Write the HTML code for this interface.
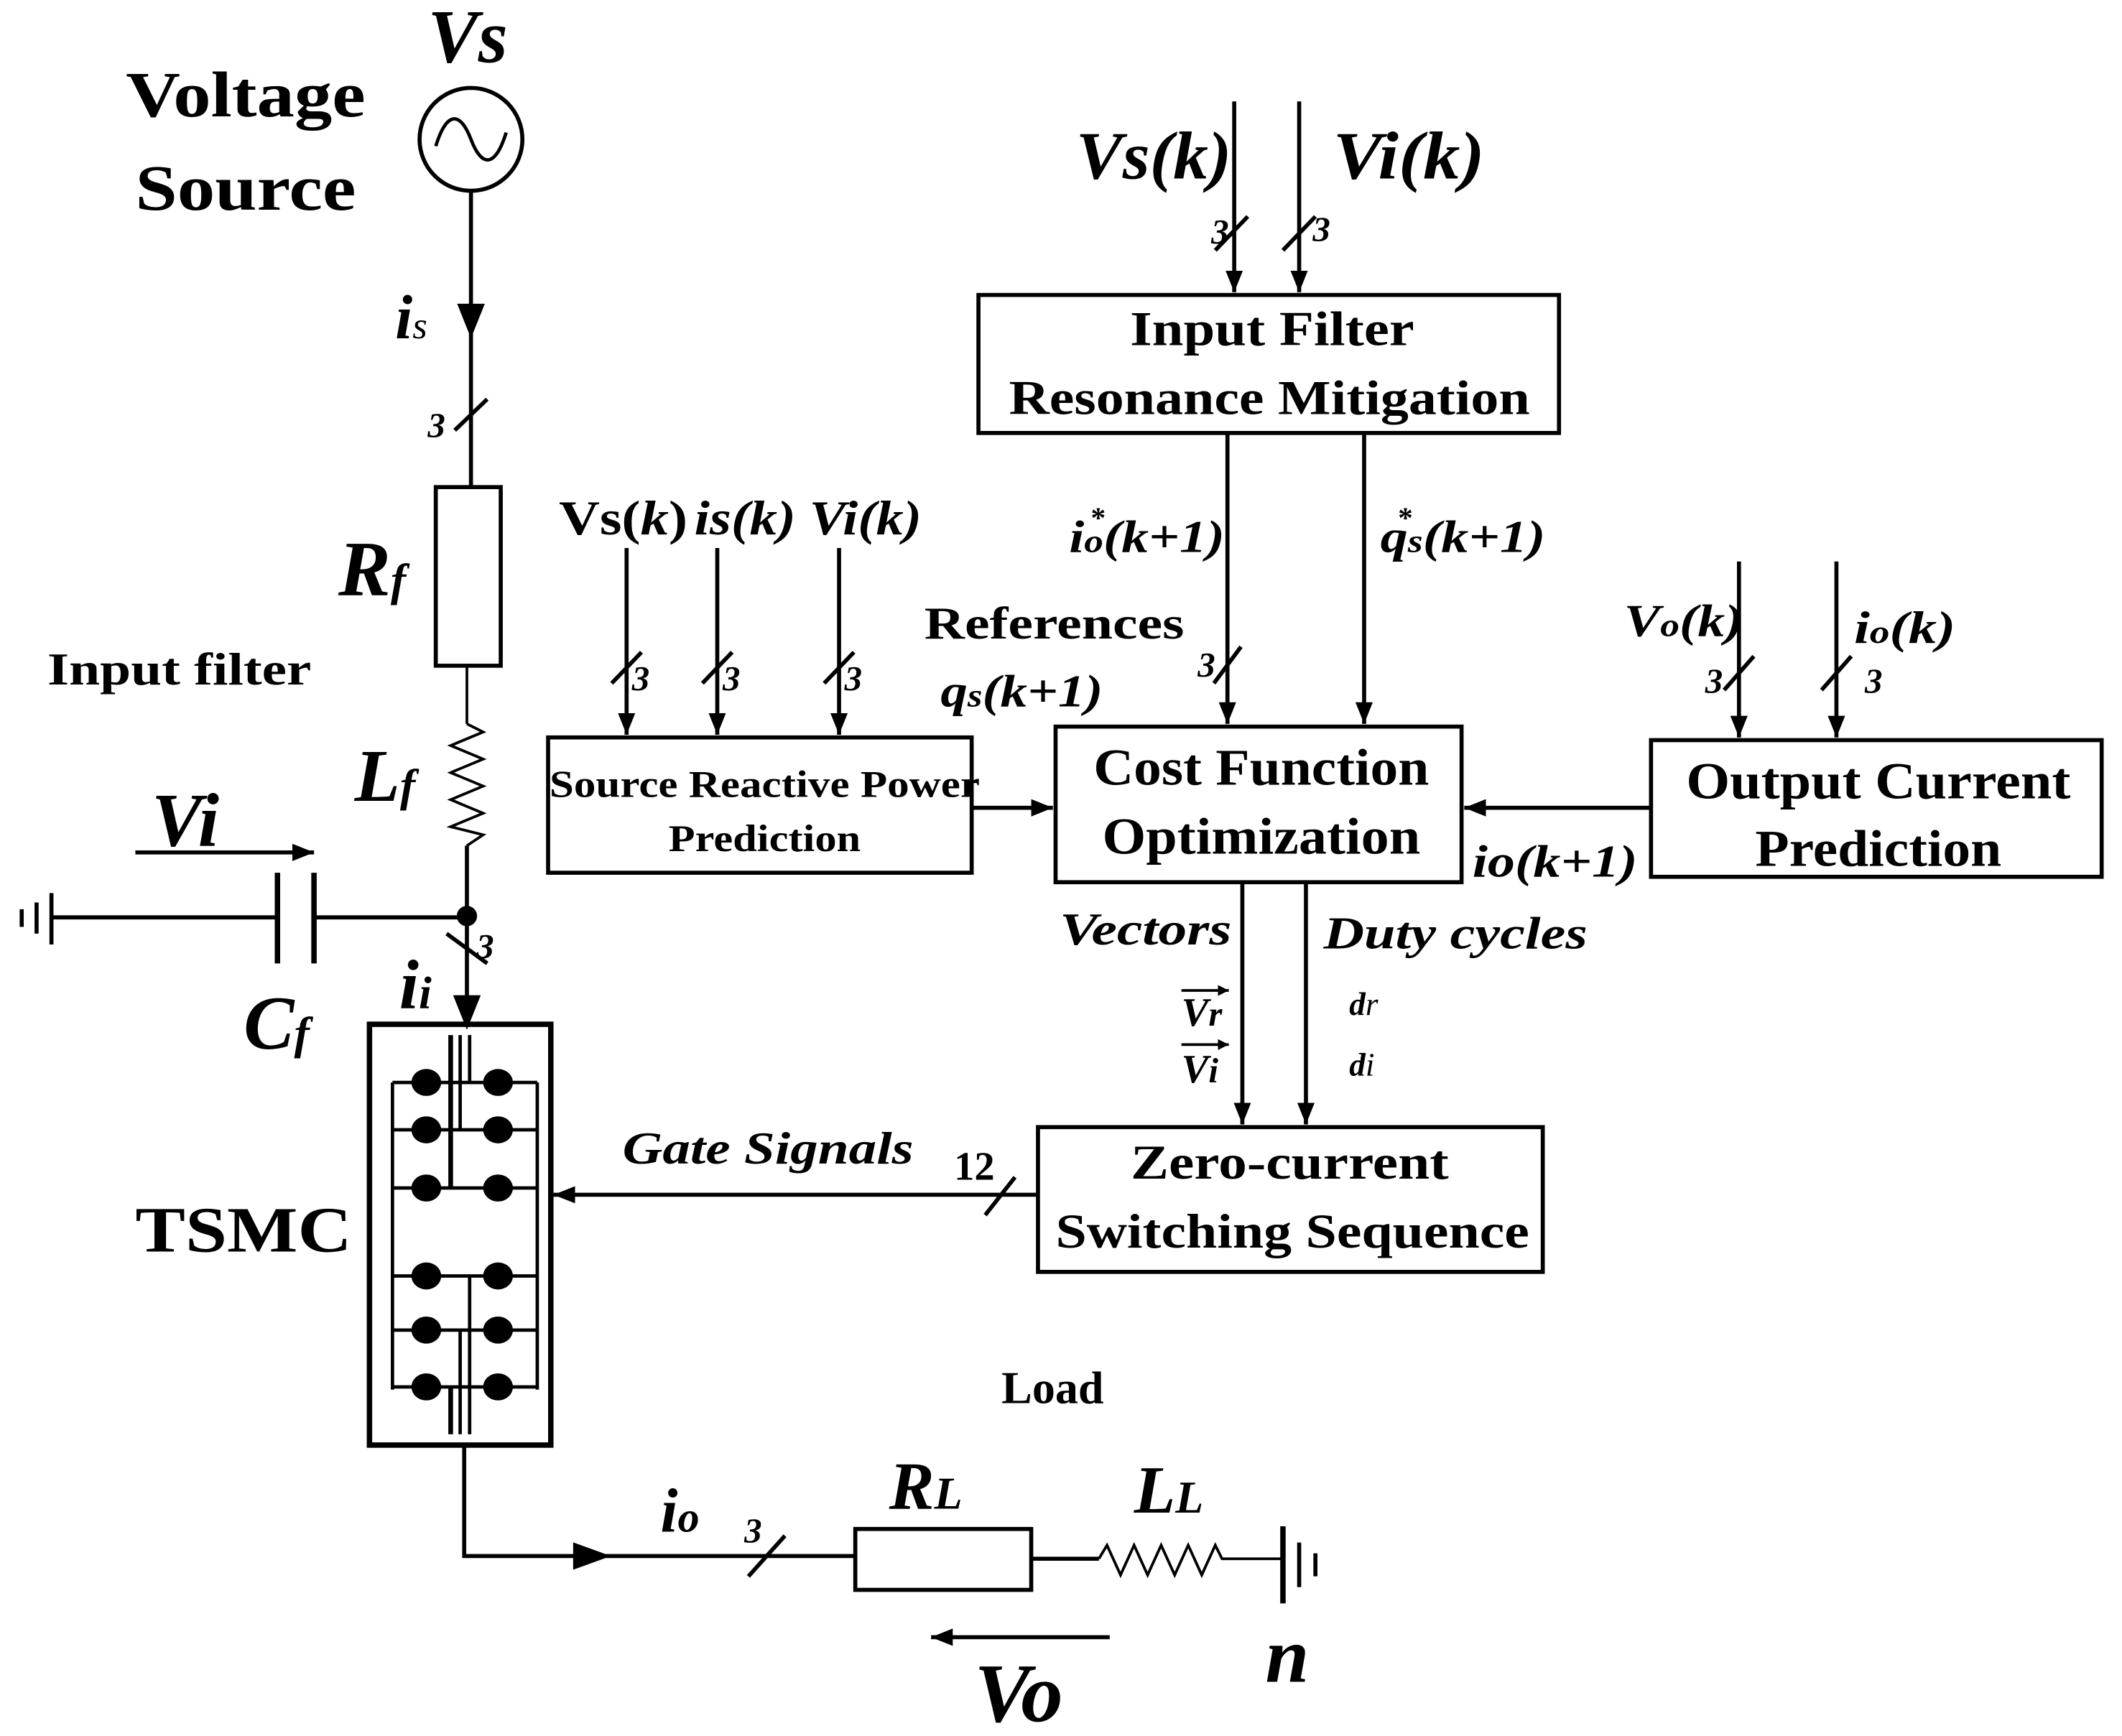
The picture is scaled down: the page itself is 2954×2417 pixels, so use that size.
<!DOCTYPE html>
<html><head><meta charset="utf-8"><style>
html,body{margin:0;padding:0;background:#fff;}
svg{display:block;}
text{font-family:"Liberation Serif",serif;font-weight:bold;fill:#000;}
.i{font-style:italic;}
</style></head><body>
<svg width="2954" height="2417" viewBox="0 0 1568 1283" xmlns="http://www.w3.org/2000/svg">
<defs>
<marker id="a" viewBox="0 0 10 10" refX="10" refY="5" markerWidth="8" markerHeight="8" markerUnits="userSpaceOnUse" orient="auto"><path d="M0,0 L10,5 L0,10 z"/></marker>
<marker id="b" viewBox="0 0 10 10" refX="10" refY="5" markerWidth="16" markerHeight="16" markerUnits="userSpaceOnUse" orient="auto"><path d="M0,1 L10,5 L0,9 z"/></marker>
</defs>
<g stroke="#000" stroke-width="3" fill="none">
<!-- source -->
<circle cx="348" cy="103" r="38"/>
<path d="M322,108 C330,82 340,82 348,103 C356,124 366,124 374,98" stroke-width="2.5"/>
<line x1="348" y1="141" x2="348" y2="360"/>
<path d="M340,226 L348,246 L356,226 z" fill="#000"/>
<line x1="336" y1="318" x2="360" y2="295"/>
<rect x="322" y="360" width="48" height="132"/>
<line x1="345" y1="492" x2="345" y2="535" stroke-width="2"/>
<polyline points="345,535 357,541 333,551 357,561 333,571 357,581 333,591 357,601 333,611 357,617 345,625" stroke-width="2"/>
<line x1="345" y1="625" x2="345" y2="757"/>
<circle cx="345" cy="677" r="6" fill="#000"/>
<path d="M337,737 L345,757 L353,737 z" fill="#000"/>
<line x1="330" y1="690" x2="360" y2="712"/>
<!-- capacitor -->
<line x1="38" y1="678" x2="205" y2="678"/>
<line x1="205" y1="645" x2="205" y2="712" stroke-width="4"/>
<line x1="232" y1="645" x2="232" y2="712" stroke-width="4"/>
<line x1="232" y1="678" x2="345" y2="678"/>
<line x1="38" y1="660" x2="38" y2="698"/>
<line x1="27" y1="667" x2="27" y2="690"/>
<line x1="16" y1="672" x2="16" y2="685"/>
<line x1="100" y1="630" x2="232" y2="630" marker-end="url(#b)"/>
<!-- TSMC -->
<rect x="273" y="757" width="134" height="311" stroke-width="4"/>
<g stroke-width="2.5">
<line x1="290" y1="800" x2="290" y2="1027"/><line x1="397" y1="800" x2="397" y2="1027"/>
<line x1="290" y1="800" x2="397" y2="800"/><line x1="290" y1="835" x2="397" y2="835"/>
<line x1="290" y1="878" x2="397" y2="878"/><line x1="290" y1="943" x2="397" y2="943"/>
<line x1="290" y1="983" x2="397" y2="983"/><line x1="290" y1="1025" x2="397" y2="1025"/>
<line x1="333" y1="765" x2="333" y2="878" stroke-width="3.5"/>
<line x1="340" y1="765" x2="340" y2="835"/>
<line x1="347" y1="765" x2="347" y2="800"/>
<line x1="347" y1="943" x2="347" y2="1060"/>
<line x1="340" y1="983" x2="340" y2="1060"/>
<line x1="333" y1="1025" x2="333" y2="1060" stroke-width="3.5"/>
</g>
<g fill="#000" stroke="none">
<ellipse cx="315" cy="800" rx="11" ry="10"/><ellipse cx="368" cy="800" rx="11" ry="10"/>
<ellipse cx="315" cy="835" rx="11" ry="10"/><ellipse cx="368" cy="835" rx="11" ry="10"/>
<ellipse cx="315" cy="878" rx="11" ry="10"/><ellipse cx="368" cy="878" rx="11" ry="10"/>
<ellipse cx="315" cy="943" rx="11" ry="10"/><ellipse cx="368" cy="943" rx="11" ry="10"/>
<ellipse cx="315" cy="983" rx="11" ry="10"/><ellipse cx="368" cy="983" rx="11" ry="10"/>
<ellipse cx="315" cy="1025" rx="11" ry="10"/><ellipse cx="368" cy="1025" rx="11" ry="10"/>
</g>
<!-- output -->
<polyline points="343,1068 343,1150 632,1150"/>
<path d="M425,1142 L447,1150 L425,1158 z" fill="#000"/>
<line x1="553" y1="1165" x2="580" y2="1135"/>
<rect x="632" y="1130" width="130" height="45"/>
<line x1="762" y1="1152" x2="812" y2="1152"/>
<polyline points="812,1152 818,1142 828,1164 838,1142 848,1164 858,1142 868,1164 878,1142 888,1164 898,1142 903,1152 948,1152" stroke-width="2"/>
<line x1="948" y1="1128" x2="948" y2="1185" stroke-width="4"/>
<line x1="960" y1="1140" x2="960" y2="1173"/>
<line x1="972" y1="1148" x2="972" y2="1165"/>
<line x1="820" y1="1210" x2="688" y2="1210" marker-end="url(#b)"/>
<!-- gate signals -->
<line x1="767" y1="883" x2="409" y2="883" marker-end="url(#b)"/>
<line x1="728" y1="898" x2="750" y2="870"/>
<rect x="767" y="833" width="373" height="107"/>
<!-- cost function -->
<rect x="780" y="537" width="300" height="115"/>
<line x1="918" y1="652" x2="918" y2="831" marker-end="url(#b)"/>
<line x1="965" y1="652" x2="965" y2="831" marker-end="url(#b)"/>
<!-- input filter -->
<rect x="723" y="218" width="429" height="102"/>
<line x1="912" y1="75" x2="912" y2="216" marker-end="url(#b)"/>
<line x1="960" y1="75" x2="960" y2="216" marker-end="url(#b)"/>
<line x1="898" y1="185" x2="922" y2="160"/>
<line x1="948" y1="185" x2="972" y2="160"/>
<line x1="907" y1="320" x2="907" y2="535" marker-end="url(#b)"/>
<line x1="1008" y1="320" x2="1008" y2="535" marker-end="url(#b)"/>
<line x1="897" y1="505" x2="917" y2="478"/>
<!-- source reactive -->
<rect x="405" y="545" width="313" height="100"/>
<line x1="718" y1="597" x2="778" y2="597" marker-end="url(#b)"/>
<line x1="463" y1="405" x2="463" y2="543" marker-end="url(#b)"/>
<line x1="530" y1="405" x2="530" y2="543" marker-end="url(#b)"/>
<line x1="620" y1="405" x2="620" y2="543" marker-end="url(#b)"/>
<line x1="452" y1="505" x2="474" y2="482"/>
<line x1="519" y1="505" x2="541" y2="482"/>
<line x1="609" y1="505" x2="631" y2="482"/>
<!-- output current -->
<rect x="1220" y="547" width="333" height="101"/>
<line x1="1220" y1="597" x2="1082" y2="597" marker-end="url(#b)"/>
<line x1="1285" y1="415" x2="1285" y2="545" marker-end="url(#b)"/>
<line x1="1357" y1="415" x2="1357" y2="545" marker-end="url(#b)"/>
<line x1="1274" y1="510" x2="1296" y2="485"/>
<line x1="1346" y1="510" x2="1368" y2="485"/>
<!-- vector arrows -->
<line x1="873" y1="732" x2="908" y2="732" stroke-width="2" marker-end="url(#a)"/>
<line x1="873" y1="772" x2="908" y2="772" stroke-width="2" marker-end="url(#a)"/>
</g>
<!-- texts -->
<text x="93" y="86" font-size="48" textLength="177" lengthAdjust="spacingAndGlyphs">Voltage</text>
<text x="100" y="155" font-size="48" textLength="163" lengthAdjust="spacingAndGlyphs">Source</text>
<text class="i" x="316" y="46" font-size="56">Vs</text>
<text class="i" x="292" y="250" font-size="46">i<tspan font-size="28" font-weight="normal">s</tspan></text>
<text class="i" x="316" y="323" font-size="26" font-weight="normal">3</text>
<text class="i" x="250" y="440" font-size="58">R<tspan font-size="34">f</tspan></text>
<text x="35" y="506" font-size="34" textLength="195" lengthAdjust="spacingAndGlyphs">Input filter</text>
<text class="i" x="262" y="592" font-size="55">L<tspan font-size="34">f</tspan></text>
<text class="i" x="112" y="625" font-size="56">Vi</text>
<text class="i" x="180" y="775" font-size="56">C<tspan font-size="34">f</tspan></text>
<text class="i" x="295" y="745" font-size="52">i<tspan font-size="34">i</tspan></text>
<text class="i" x="352" y="708" font-size="26" font-weight="normal">3</text>
<text x="100" y="925" font-size="48" textLength="160" lengthAdjust="spacingAndGlyphs">TSMC</text>
<text class="i" x="460" y="860" font-size="34" textLength="215" lengthAdjust="spacingAndGlyphs">Gate Signals</text>
<text x="705" y="872" font-size="30" font-weight="normal">12</text>
<text x="953" y="871" font-size="36" text-anchor="middle" textLength="235" lengthAdjust="spacingAndGlyphs">Zero-current</text>
<text x="955" y="922" font-size="36" text-anchor="middle" textLength="350" lengthAdjust="spacingAndGlyphs">Switching Sequence</text>
<text x="932" y="580" font-size="38" text-anchor="middle" textLength="248" lengthAdjust="spacingAndGlyphs">Cost Function</text>
<text x="932" y="631" font-size="38" text-anchor="middle" textLength="235" lengthAdjust="spacingAndGlyphs">Optimization</text>
<text class="i" x="783" y="698" font-size="34" textLength="127" lengthAdjust="spacingAndGlyphs">Vectors</text>
<text class="i" x="978" y="701" font-size="34" textLength="195" lengthAdjust="spacingAndGlyphs">Duty cycles</text>
<text class="i" x="873" y="758" font-size="30">V<tspan font-size="26">r</tspan></text>
<text class="i" x="873" y="800" font-size="30">V<tspan font-size="26">i</tspan></text>
<text class="i" x="997" y="750" font-size="24">d<tspan font-weight="normal">r</tspan></text>
<text class="i" x="997" y="795" font-size="24">d<tspan font-weight="normal">i</tspan></text>
<text x="940" y="255" font-size="36" text-anchor="middle" textLength="210" lengthAdjust="spacingAndGlyphs">Input Filter</text>
<text x="938" y="306" font-size="36" text-anchor="middle" textLength="385" lengthAdjust="spacingAndGlyphs">Resonance Mitigation</text>
<text class="i" x="795" y="132" font-size="50" textLength="115" lengthAdjust="spacingAndGlyphs">Vs(k)</text>
<text class="i" x="985" y="132" font-size="50" textLength="112" lengthAdjust="spacingAndGlyphs">Vi(k)</text>
<text class="i" x="895" y="180" font-size="26" font-weight="normal">3</text>
<text class="i" x="970" y="178" font-size="26" font-weight="normal">3</text>
<text class="i" x="790" y="408" font-size="34" textLength="115" lengthAdjust="spacingAndGlyphs">i<tspan font-size="24">o</tspan>(k+1)</text>
<text x="806" y="390" font-size="22">*</text>
<text class="i" x="1020" y="408" font-size="34" textLength="122" lengthAdjust="spacingAndGlyphs">q<tspan font-size="24">s</tspan>(k+1)</text>
<text x="1033" y="390" font-size="22">*</text>
<text class="i" x="885" y="500" font-size="26" font-weight="normal">3</text>
<text x="683" y="472" font-size="34" textLength="192" lengthAdjust="spacingAndGlyphs">References</text>
<text class="i" x="695" y="522" font-size="34" textLength="120" lengthAdjust="spacingAndGlyphs">q<tspan font-size="24">s</tspan>(k+1)</text>
<text x="565" y="589" font-size="28" text-anchor="middle" textLength="318" lengthAdjust="spacingAndGlyphs">Source Reactive Power</text>
<text x="565" y="629" font-size="28" text-anchor="middle" textLength="142" lengthAdjust="spacingAndGlyphs">Prediction</text>
<text x="413" y="395" font-size="36" textLength="95" lengthAdjust="spacingAndGlyphs">Vs(<tspan class="i">k</tspan>)</text>
<text class="i" x="513" y="395" font-size="36" textLength="75" lengthAdjust="spacingAndGlyphs">is(k)</text>
<text class="i" x="598" y="395" font-size="36" textLength="83" lengthAdjust="spacingAndGlyphs">Vi(k)</text>
<text class="i" x="467" y="510" font-size="26" font-weight="normal">3</text>
<text class="i" x="534" y="510" font-size="26" font-weight="normal">3</text>
<text class="i" x="624" y="510" font-size="26" font-weight="normal">3</text>
<text x="1388" y="590" font-size="38" text-anchor="middle" textLength="284" lengthAdjust="spacingAndGlyphs">Output Current</text>
<text x="1388" y="640" font-size="38" text-anchor="middle" textLength="182" lengthAdjust="spacingAndGlyphs">Prediction</text>
<text class="i" x="1088" y="648" font-size="34" textLength="122" lengthAdjust="spacingAndGlyphs">io(k+1)</text>
<text class="i" x="1200" y="470" font-size="34" textLength="88" lengthAdjust="spacingAndGlyphs">V<tspan font-size="24">o</tspan>(k)</text>
<text class="i" x="1370" y="475" font-size="34" textLength="75" lengthAdjust="spacingAndGlyphs">i<tspan font-size="24">o</tspan>(k)</text>
<text class="i" x="1260" y="512" font-size="26" font-weight="normal">3</text>
<text class="i" x="1378" y="512" font-size="26" font-weight="normal">3</text>
<text x="740" y="1037" font-size="34">Load</text>
<text class="i" x="657" y="1115" font-size="50">R<tspan font-size="34">L</tspan></text>
<text class="i" x="838" y="1118" font-size="50">L<tspan font-size="34">L</tspan></text>
<text class="i" x="488" y="1132" font-size="46">i<tspan font-size="32">o</tspan></text>
<text class="i" x="550" y="1140" font-size="26" font-weight="normal">3</text>
<text class="i" x="720" y="1272" font-size="62">Vo</text>
<text class="i" x="935" y="1243" font-size="58">n</text>
</svg>
</body></html>
